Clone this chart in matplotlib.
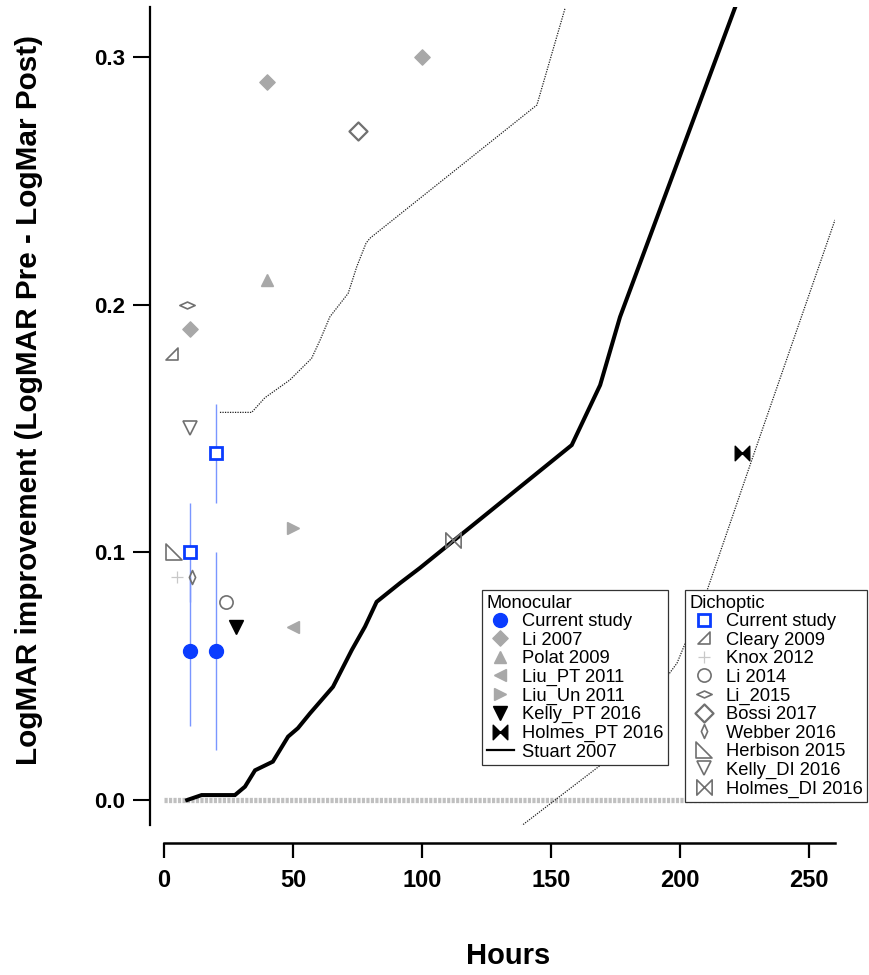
import matplotlib
matplotlib.use('Agg')
import matplotlib.pyplot as plt
from matplotlib.path import Path
from matplotlib.lines import Line2D

plt.rcParams['font.family'] = ['Liberation Sans', 'DejaVu Sans']

# ---------------- data ----------------
# Monocular
mono_current_x = [10, 20]
mono_current_y = [0.06, 0.06]
mono_current_err = [0.03, 0.04]
li2007_x = [10, 40, 100]
li2007_y = [0.19, 0.29, 0.30]
polat2009_x = [40]
polat2009_y = [0.21]
liu_pt2011_x = [50]
liu_pt2011_y = [0.07]
liu_un2011_x = [50]
liu_un2011_y = [0.11]
kelly_pt2016_x = [28]
kelly_pt2016_y = [0.07]
holmes_pt2016_x = [224]
holmes_pt2016_y = [0.14]
stuart_x = [9, 14.6, 27.5, 31.4, 35.3, 42.2, 48.1, 51.9, 56.6, 65.5, 72.8, 77.9,
            82.4, 91.5, 99.2, 158, 169, 176.7, 221.3]
stuart_y = [0.0, 0.002, 0.002, 0.0054, 0.012, 0.0155, 0.0256, 0.029, 0.035, 0.0457,
            0.0606, 0.070, 0.080, 0.0876, 0.0937, 0.1433, 0.1675, 0.195, 0.32]
stuart_upper_x = [21.7, 34.0, 39.1, 48.8, 57.2, 60.5, 64.3, 71.4, 74.7, 78.3, 79.8,
                  144.5, 155.4]
stuart_upper_y = [0.1565, 0.1565, 0.1624, 0.1696, 0.1783, 0.1857, 0.1951, 0.2046,
                  0.2153, 0.2248, 0.2268, 0.2806, 0.3196]
stuart_lower_x = [138.4, 170.2, 198.8, 210.5, 227.9, 260]
stuart_lower_y = [-0.0105, 0.0149, 0.0553, 0.0848, 0.1377, 0.2342]

# Dichoptic
dich_current_x = [10, 20]
dich_current_y = [0.10, 0.14]
dich_current_err = [0.02, 0.02]
cleary2009_x = [3]
cleary2009_y = [0.18]
knox2012_x = [5]
knox2012_y = [0.09]
li2014_x = [24]
li2014_y = [0.08]
li2015_x = [9]
li2015_y = [0.20]
bossi2017_x = [75]
bossi2017_y = [0.27]
webber2016_x = [11]
webber2016_y = [0.09]
herbison2015_x = [4]
herbison2015_y = [0.10]
kelly_di2016_x = [10]
kelly_di2016_y = [0.15]
holmes_di2016_x = [112]
holmes_di2016_y = [0.105]

zero_x = [0, 260]
zero_y = [0, 0]

x_ticks = [0, 50, 100, 150, 200, 250]
y_ticks = [0.0, 0.1, 0.2, 0.3]

# ---------------- markers ----------------
def poly(verts):
    verts = list(verts) + [verts[0]]
    codes = [Path.MOVETO] + [Path.LINETO] * (len(verts) - 2) + [Path.CLOSEPOLY]
    return Path(verts, codes)

bowtie = poly([(-1, -1), (-1, 1), (1, -1), (1, 1)])
diamond = poly([(0, 1), (1, 0), (0, -1), (-1, 0)])
flat_diamond = poly([(-1, 0), (0, 0.45), (1, 0), (0, -0.45)])
thin_diamond = poly([(0, 1), (0.45, 0), (0, -1), (-0.45, 0)])
tri_cleary = poly([(-1, -1), (1, -1), (1, 1)])
tri_herbison = poly([(-1, 1), (-1, -1), (1, -1)])

W, H = 869, 975
fig = plt.figure(figsize=(W / 100, H / 100), dpi=100)
ax = fig.add_axes([150 / W, (H - 824.8) / H, 685 / W, 817.4 / H])
ax.set_xlim(-5.4, 260)
ax.set_ylim(-0.01, 0.32)

blue = '#0a3cff'
ebar = '#7a96ff'
gfill = '#a8a8a8'
gedge = '#707070'

ax.plot(zero_x, zero_y, color='#c0c0c0', lw=3.8, ls=(0, (0.6, 0.25)), zorder=1,
        solid_capstyle='butt')
ax.plot(stuart_upper_x, stuart_upper_y, color='#222222', lw=0.9, ls=(0, (1, 1)), zorder=2)
ax.plot(stuart_lower_x, stuart_lower_y, color='#222222', lw=0.9, ls=(0, (1, 1)), zorder=2)
ax.plot(stuart_x, stuart_y, color='black', lw=2.9, zorder=3, solid_joinstyle='miter')
h_stuart = Line2D([], [], color='black', lw=1.6, label='Stuart 2007')

ax.errorbar(mono_current_x, mono_current_y, yerr=mono_current_err, fmt='none',
            ecolor=ebar, elinewidth=1.0, capsize=0, zorder=4)
ax.errorbar(dich_current_x, dich_current_y, yerr=dich_current_err, fmt='none',
            ecolor=ebar, elinewidth=1.0, capsize=0, zorder=4)

mk = dict(ls='none', zorder=5)
h_mc, = ax.plot(mono_current_x, mono_current_y, marker='o', ms=10, mfc=blue, mec=blue,
                label='Current study', **mk)
h_li07, = ax.plot(li2007_x, li2007_y, marker=diamond, ms=11, mfc=gfill, mec=gfill,
                  label='Li 2007', **mk)
h_polat, = ax.plot(polat2009_x, polat2009_y, marker='^', ms=8.5, mfc=gfill, mec=gfill,
                   label='Polat 2009', **mk)
h_liupt, = ax.plot(liu_pt2011_x, liu_pt2011_y, marker='<', ms=8, mfc=gfill, mec=gfill,
                   label='Liu_PT 2011', **mk)
h_liuun, = ax.plot(liu_un2011_x, liu_un2011_y, marker='>', ms=8, mfc=gfill, mec=gfill,
                   label='Liu_Un 2011', **mk)
h_kpt, = ax.plot(kelly_pt2016_x, kelly_pt2016_y, marker='v', ms=9.5, mfc='black',
                 mec='black', label='Kelly_PT 2016', **mk)
h_hpt, = ax.plot(holmes_pt2016_x, holmes_pt2016_y, marker=bowtie, ms=10.5, mfc='black',
                 mec='black', label='Holmes_PT 2016', **mk)

h_dc, = ax.plot(dich_current_x, dich_current_y, marker='s', ms=9, mfc='white', mec=blue,
                mew=2.0, label='Current study', **mk)
op = dict(mfc='none', mec=gedge, mew=1.2)
h_cl, = ax.plot(cleary2009_x, cleary2009_y, marker=tri_cleary, ms=9, label='Cleary 2009',
                **op, **mk)
h_kn, = ax.plot(knox2012_x, knox2012_y, marker='+', ms=9, mec='#c8c8c8', mew=0.9,
                label='Knox 2012', **mk)
h_l14, = ax.plot(li2014_x, li2014_y, marker='o', ms=9.5, label='Li 2014', **op, **mk)
h_l15, = ax.plot(li2015_x, li2015_y, marker=flat_diamond, ms=11, label='Li_2015', **op, **mk)
h_bo, = ax.plot(bossi2017_x, bossi2017_y, marker=diamond, ms=13, label='Bossi 2017',
                mfc='none', mec=gedge, mew=1.6, **mk)
h_we, = ax.plot(webber2016_x, webber2016_y, marker=thin_diamond, ms=10, label='Webber 2016',
                **op, **mk)
h_he, = ax.plot(herbison2015_x, herbison2015_y, marker=tri_herbison, ms=11,
                label='Herbison 2015', **op, **mk)
h_kdi, = ax.plot(kelly_di2016_x, kelly_di2016_y, marker='v', ms=9.5, label='Kelly_DI 2016',
                 **op, **mk)
h_hdi, = ax.plot(holmes_di2016_x, holmes_di2016_y, marker=bowtie, ms=11,
                 label='Holmes_DI 2016', **op, **mk)

# ---------------- axes styling ----------------
for s in ('top', 'right'):
    ax.spines[s].set_visible(False)
ax.spines['left'].set_linewidth(1.6)
ax.spines['bottom'].set_linewidth(1.8)
ax.spines['bottom'].set_position(('outward', 13))
ax.spines['bottom'].set_bounds(0, 260)
ax.set_xticks(x_ticks)
ax.set_yticks(y_ticks)
ax.set_yticklabels([f'{v:.1f}' for v in y_ticks])
ax.tick_params(axis='y', length=12, width=1.5, pad=6, labelsize=16)
ax.tick_params(axis='x', length=11, width=1.6, pad=8, labelsize=17)
for lab in ax.get_xticklabels() + ax.get_yticklabels():
    lab.set_fontweight('bold')

ax.set_xlabel('Hours', fontsize=21, fontweight='bold')
ax.xaxis.set_label_coords(0.5226, -0.143)
ax.set_ylabel('LogMAR improvement (LogMAR Pre - LogMar Post)', fontsize=21.4,
              fontweight='bold')
ax.yaxis.set_label_coords(-0.156, 0.52)

# ---------------- legends ----------------
lkw = dict(bbox_transform=fig.transFigure, borderaxespad=0,
           fontsize=13.2, title_fontsize=13.2, frameon=True, fancybox=False,
           edgecolor='#333333', framealpha=1, alignment='left', handlelength=1.5,
           handletextpad=0.45, labelspacing=0.085, borderpad=0.25, numpoints=1)
leg1 = ax.legend(handles=[h_mc, h_li07, h_polat, h_liupt, h_liuun, h_kpt, h_hpt, h_stuart],
                 title='Monocular', loc='upper left',
                 bbox_to_anchor=(482 / W, 1 - 590 / H), **lkw)
leg1.get_frame().set_linewidth(0.9)
ax.add_artist(leg1)
leg2 = ax.legend(handles=[h_dc, h_cl, h_kn, h_l14, h_l15, h_bo, h_we, h_he, h_kdi, h_hdi],
                 title='Dichoptic', loc='upper right',
                 bbox_to_anchor=(867 / W, 1 - 590 / H), **lkw)
leg2.get_frame().set_linewidth(0.9)

fig.savefig('out.png', dpi=100)
